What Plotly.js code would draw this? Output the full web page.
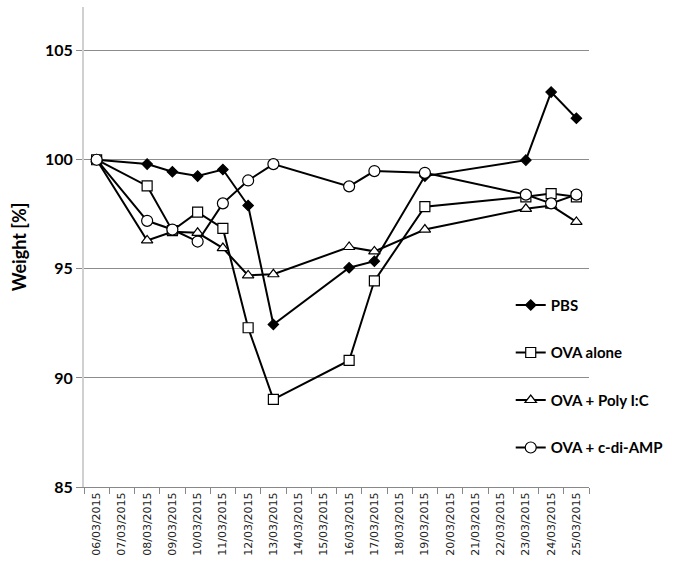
<!DOCTYPE html>
<html>
<head>
<meta charset="utf-8">
<script src="https://cdn.plot.ly/plotly-3.0.1.min.js"></script>
<style>html,body{margin:0;padding:0;background:#fff;}#chart{width:676px;height:571px;}</style>
</head>
<body>
<div id="chart"></div>
<script>
// all category labels on the x axis
var allDates = ["06/03/2015","07/03/2015","08/03/2015","09/03/2015","10/03/2015","11/03/2015","12/03/2015","13/03/2015","14/03/2015","15/03/2015","16/03/2015","17/03/2015","18/03/2015","19/03/2015","20/03/2015","21/03/2015","22/03/2015","23/03/2015","24/03/2015","25/03/2015"];
// measurement days
var measureDates = ["06/03/2015","08/03/2015","09/03/2015","10/03/2015","11/03/2015","12/03/2015","13/03/2015","16/03/2015","17/03/2015","19/03/2015","23/03/2015","24/03/2015","25/03/2015"];
var seriesNames = ["PBS","OVA alone","OVA + Poly I:C","OVA + c-di-AMP"];
var pbs      = [100, 99.8, 99.45, 99.25, 99.55, 97.9, 92.45, 95.05, 95.35, 99.25, 99.98, 103.1, 101.9];
var ovaAlone = [100, 98.8, 96.75, 97.6, 96.85, 92.3, 89.02, 90.8, 94.45, 97.85, 98.3, 98.45, 98.3];
var ovaPoly  = [100, 96.3, 96.7, 96.65, 95.95, 94.7, 94.75, 96.0, 95.8, 96.8, 97.75, 97.9, 97.15];
var ovaCdi   = [100, 97.2, 96.8, 96.25, 98.0, 99.05, 99.8, 98.78, 99.48, 99.4, 98.4, 98.0, 98.4];
var yTicks = [85, 90, 95, 100, 105];

var values = [pbs, ovaAlone, ovaPoly, ovaCdi];
var symbols = ["diamond", "square", "triangle-up", "circle"];
var fills = ["#000000", "#ffffff", "#ffffff", "#ffffff"];
var sizes = [8, 10, 10, 11];

var traces = values.map(function(v, i){
  return {
    type: "scatter", mode: "lines+markers",
    x: measureDates, y: v, name: seriesNames[i],
    legendgroup: "g" + i,
    line: {color: "#000000", width: 2},
    marker: {symbol: symbols[i], size: sizes[i], color: fills[i], line: {color: "#000000", width: 1.2}},
    cliponaxis: false
  };
});

var layout = {
  width: 676, height: 571,
  margin: {l: 84, r: 87, t: 7, b: 84, autoexpand: false},
  paper_bgcolor: "#ffffff", plot_bgcolor: "#ffffff",
  font: {family: "Lato, 'Open Sans', sans-serif", color: "#000000"},
  showlegend: true,
  legend: {
    x: 0.845, y: 0.413, xanchor: "left", yanchor: "top",
    bgcolor: "rgba(0,0,0,0)",
    font: {size: 15, family: "Lato, sans-serif", weight: "bold", color: "#000"},
    traceorder: "grouped", tracegroupgap: 25, itemwidth: 30
  },
  xaxis: {
    type: "category", categoryorder: "array", categoryarray: allDates,
    tickvals: allDates, ticktext: allDates,
    range: [-0.5, 19.5],
    tickson: "boundaries", ticks: "outside", ticklen: 6, tickcolor: "#888888",
    showline: true, linecolor: "#888888", linewidth: 1,
    showgrid: false, zeroline: false,
    tickangle: -90, tickfont: {size: 11, family: "'DejaVu Sans', sans-serif", color: "#222"}
  },
  yaxis: {
    range: [85, 107], tickvals: yTicks, ticktext: yTicks.map(String),
    ticks: "outside", ticklen: 6, tickcolor: "#888888",
    showline: true, linecolor: "#d0d0d0", linewidth: 2,
    showgrid: true, gridcolor: "#8c8c8c", gridwidth: 1, zeroline: false,
    tickfont: {size: 16, family: "Lato, sans-serif", weight: "bold", color: "#000"},
    title: {text: "Weight [%]", font: {size: 18, family: "Lato, sans-serif", weight: "bold", color: "#000"}, standoff: 14}
  }
};
Plotly.newPlot("chart", traces, layout, {displayModeBar: false, staticPlot: true});
</script>
</body>
</html>
